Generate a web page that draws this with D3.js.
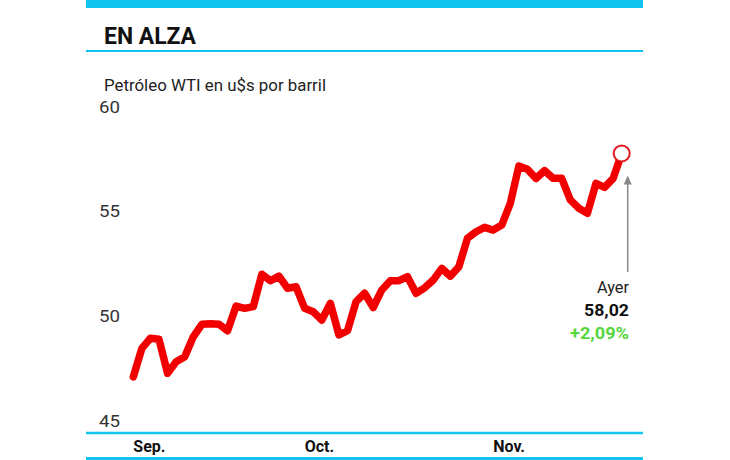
<!DOCTYPE html>
<meta charset="utf-8">
<style>
body { margin: 0; background: #fff; }
text { font-family: Roboto, "Noto Sans", sans-serif; }
.tick text { font-size: 16px; fill: #333; }
.month { font-size: 16px; font-weight: 700; fill: #111; }
</style>
<svg width="730" height="460"></svg>
<script src="https://d3js.org/d3.v7.min.js"></script>
<script>

// WTI trading days, Sep-Nov
var sepDays = ["01","05","06","07","08","11","12","13","14","15","18","19","20","21","22","25","26","27","28","29"];
var octDays = ["02","03","04","05","06","09","10","11","12","13","16","17","18","19","20","23","24","25","26","27","30","31"];
var novDays = ["01","02","03","06","07","08","09","10","13","14","15","16","17","20","21","22"];

var sepPrices = [47.35, 48.71, 49.19, 49.14, 47.52, 48.07, 48.31, 49.26, 49.86, 49.88,
                 49.86, 49.55, 50.73, 50.62, 50.70, 52.25, 51.94, 52.16, 51.58, 51.65];
var octPrices = [50.62, 50.46, 50.06, 50.86, 49.35, 49.55, 50.94, 51.34, 50.66, 51.50, 51.94,
                 51.94, 52.13, 51.34, 51.60, 51.97, 52.53, 52.16, 52.61, 53.97, 54.28, 54.49];
var novPrices = [54.36, 54.60, 55.64, 57.42, 57.26, 56.83, 57.20, 56.83, 56.83, 55.80, 55.40,
                 55.16, 56.59, 56.40, 56.83, 58.02];

var monthLabels = ["Sep.", "Oct.", "Nov."];
var yTicks = [45, 50, 55, 60];

var title = "EN ALZA";
var subtitle = "Petróleo WTI en u$s por barril";
var lastLabel = "Ayer";
var lastValue = "58,02";
var lastChange = "+2,09%";

var cyan = "#10c4ef";

var svg = d3.select("svg");

var months = [sepDays, octDays, novDays];
var priceSets = [sepPrices, octPrices, novPrices];
var data = [];
months.forEach(function(days, m) {
  days.forEach(function(day, j) {
    data.push({ date: (m + 9) + "-" + day, month: m, value: priceSets[m][j] });
  });
});

var x = d3.scalePoint()
    .domain(data.map(function(d) { return d.date; }))
    .range([133.3, 621.7]);

var y = d3.scaleLinear()
    .domain([45, 60])
    .range([426, 112]);

// frame
svg.append("rect").attr("x", 86).attr("y", 0).attr("width", 557).attr("height", 8).attr("fill", cyan);
svg.append("line").attr("x1", 86).attr("x2", 643).attr("y1", 51).attr("y2", 51)
    .attr("stroke", cyan).attr("stroke-width", 2);
svg.append("line").attr("x1", 86).attr("x2", 643).attr("y1", 433).attr("y2", 433)
    .attr("stroke", cyan).attr("stroke-width", 2.5);
svg.append("rect").attr("x", 86).attr("y", 457).attr("width", 557).attr("height", 3).attr("fill", cyan);

svg.append("text")
    .attr("x", 104).attr("y", 44)
    .attr("textLength", 92).attr("lengthAdjust", "spacingAndGlyphs")
    .style("font-size", "24px").style("font-weight", 700).attr("fill", "#111")
    .text(title);

svg.append("text")
    .attr("x", 104).attr("y", 91)
    .attr("textLength", 222).attr("lengthAdjust", "spacingAndGlyphs")
    .style("font-size", "16px").attr("fill", "#222")
    .text(subtitle);

// y axis: labels only, baseline on the value
var yAxis = svg.append("g")
    .attr("transform", "translate(99,0)")
    .call(d3.axisRight(y).tickValues(yTicks).tickSize(0).tickPadding(0));
yAxis.select(".domain").remove();
yAxis.selectAll("text").attr("dy", 0).attr("text-anchor", "start")
    .attr("textLength", 21).attr("lengthAdjust", "spacingAndGlyphs");

// month labels at first trading day of each month
var firsts = monthLabels.map(function(label, m) {
  return { label: label, date: data.find(function(d) { return d.month === m; }).date };
});
svg.selectAll(".month")
    .data(firsts)
    .enter().append("text")
    .attr("class", "month")
    .attr("x", function(d) { return x(d.date); })
    .attr("y", 452)
    .text(function(d) { return d.label; });

// price line
var line = d3.line()
    .x(function(d) { return x(d.date); })
    .y(function(d) { return y(d.value); });

svg.append("path")
    .datum(data)
    .attr("d", line)
    .attr("fill", "none")
    .attr("stroke", "#f20000")
    .attr("stroke-width", 7.5)
    .attr("stroke-linejoin", "round")
    .attr("stroke-linecap", "round");

var last = data[data.length - 1];
svg.append("circle")
    .attr("cx", x(last.date))
    .attr("cy", y(last.value))
    .attr("r", 8)
    .attr("fill", "#fff")
    .attr("stroke", "#e01a1e")
    .attr("stroke-width", 2);

// arrow pointing at last value
var ax = x(last.date) + 6;
svg.append("line")
    .attr("x1", ax).attr("x2", ax)
    .attr("y1", y(last.value) + 30).attr("y2", 272)
    .attr("stroke", "#888").attr("stroke-width", 1.5);
svg.append("path")
    .attr("d", "M" + ax + "," + (y(last.value) + 22) + " l-4,9 l8,0 z")
    .attr("fill", "#888");

svg.append("text").attr("x", 629).attr("y", 293).attr("text-anchor", "end")
    .attr("textLength", 32).attr("lengthAdjust", "spacingAndGlyphs")
    .style("font-size", "17px").attr("fill", "#222").text(lastLabel);
svg.append("text").attr("x", 629).attr("y", 316).attr("text-anchor", "end")
    .attr("textLength", 45).attr("lengthAdjust", "spacingAndGlyphs")
    .style("font-size", "17px").style("font-weight", 700).attr("fill", "#111").text(lastValue);
svg.append("text").attr("x", 629).attr("y", 339).attr("text-anchor", "end")
    .attr("textLength", 59).attr("lengthAdjust", "spacingAndGlyphs")
    .style("font-size", "17px").style("font-weight", 700).attr("fill", "#55d63a").text(lastChange);

</script>
